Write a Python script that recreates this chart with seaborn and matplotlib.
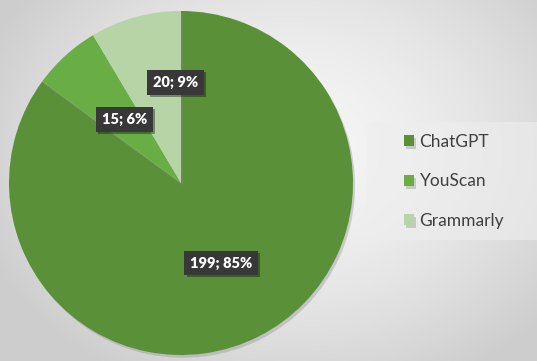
import numpy as np
import matplotlib
matplotlib.use("Agg")
import matplotlib.pyplot as plt
import matplotlib.patheffects as pe
from matplotlib.patches import Rectangle
import seaborn as sns

categories = ["ChatGPT", "YouScan", "Grammarly"]
values = [199, 15, 20]
percents = [85, 6, 9]
colors = ["#5a9138", "#68ae44", "#b6d4a6"]

sns.set_style("white")
plt.rcParams["font.family"] = ["Lato", "DejaVu Sans"]

W, H = 537, 361
fig = plt.figure(figsize=(W / 100, H / 100), dpi=100)

# background radial gradient
bg = fig.add_axes([0, 0, 1, 1], zorder=0)
yy, xx = np.mgrid[0:H, 0:W]
d = np.sqrt(((xx - 290) / 330.0) ** 2 + ((yy - 150) / 260.0) ** 2)
d = np.clip(d, 0, 1)
val = 0.965 - 0.16 * d ** 1.6
img = np.dstack([val, val, val])
bg.imshow(img, extent=[0, 1, 0, 1], aspect="auto", origin="upper")
bg.axis("off")

# legend box
fig.patches.append(Rectangle((367 / W, 1 - 240 / H), (W - 367) / W, 118 / H,
                             transform=fig.transFigure, facecolor="#eeeeee",
                             edgecolor="none", alpha=0.6, zorder=1))

ax = fig.add_axes([9 / W, 1 - 355 / H, 344 / W, 344 / H], zorder=2)
ax.set_facecolor("none")
wedges, _ = ax.pie(values, colors=colors, startangle=90, counterclock=False,
                   radius=1, wedgeprops=dict(linewidth=0))
for w in wedges:
    w.set_path_effects([pe.SimplePatchShadow(offset=(1.5, -2), shadow_rgbFace="#888888", alpha=0.35),
                        pe.Normal()])
ax.set_xlim(-1, 1)
ax.set_ylim(-1, 1)
ax.set_aspect("equal")
ax.axis("off")

label_pos = [(0.235, -0.465), (-0.33, 0.37), (-0.03, 0.585)]
for (x, y), v, p in zip(label_pos, values, percents):
    t = ax.text(x, y, f"{v}; {p}%", ha="center", va="center", color="white",
                fontsize=10.5, fontweight="heavy",
                bbox=dict(boxstyle="square,pad=0.4", facecolor="#383838",
                          edgecolor="none"))
    t.get_bbox_patch().set_path_effects([pe.SimplePatchShadow(offset=(1.5, -1.5), alpha=0.4), pe.Normal()])

leg = fig.legend(wedges, categories, loc="upper left",
                 bbox_to_anchor=(397 / W, 1 - 127 / H), frameon=False,
                 fontsize=12.5, handlelength=0.6, handleheight=0.6,
                 handletextpad=0.3, labelspacing=1.35, borderaxespad=0)
for t in leg.get_texts():
    t.set_color("#404040")

fig.savefig("out.png", dpi=100)
